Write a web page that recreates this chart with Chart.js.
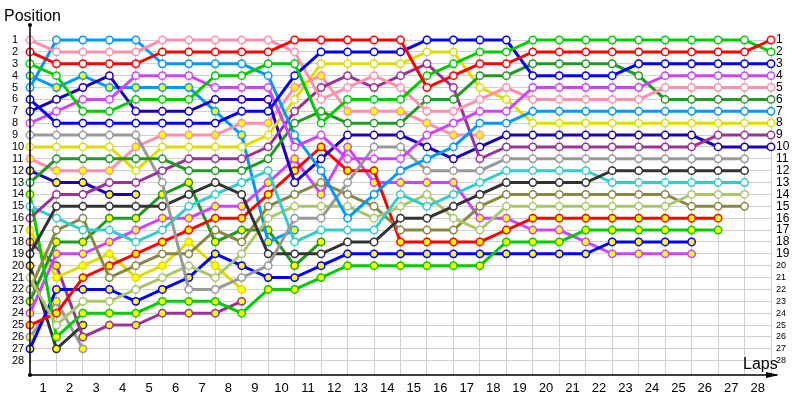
<!DOCTYPE html>
<html>
<head>
<meta charset="utf-8">
<script src="https://cdn.jsdelivr.net/npm/chart.js@4.4.1/dist/chart.umd.min.js"></script>
<style>
  html, body { margin: 0; padding: 0; background: #fff; }
  canvas { display: block; }
</style>
</head>
<body>
<canvas id="lapChart" width="800" height="400"></canvas>
<script>
// lap 0 = starting grid
const laps = [0,1,2,3,4,5,6,7,8,9,10,11,12,13,14,15,16,17,18,19,20,21,22,23,24,25,26,27,28];
const lapLabels = ['1','2','3','4','5','6','7','8','9','10','11','12','13','14','15','16','17','18','19','20','21','22','23','24','25','26','27','28'];
const positions = [1,2,3,4,5,6,7,8,9,10,11,12,13,14,15,16,17,18,19,20,21,22,23,24,25,26,27,28];

// position after each lap, one array per car
const redW    = [2,3,3,3,3,2,2,2,2,2,1,1,1,1,1,5,4,3,3,2,2,2,2,2,2,2,2,2,1];
const greenW  = [3,4,7,7,6,6,6,4,4,3,3,8,6,6,6,4,3,2,2,1,1,1,1,1,1,1,1,1,2];
const blueW   = [6,8,8,8,8,8,8,8,7,7,4,2,2,2,2,1,1,1,1,4,4,4,4,3,3,3,3,3,3];
const yellowW = [10,10,10,10,12,10,10,10,10,9,6,3,3,3,3,2,2,5,6,8,8,8,8,8,8,8,8,8,8];
const purpleW = [16,14,14,13,13,12,11,11,11,10,7,5,4,5,4,3,5,11,10,10,10,10,10,10,10,10,9,9,9];
const pinkW   = [1,2,2,2,2,1,1,1,1,1,2,6,5,4,5,7,7,6,5,6,6,6,6,6,5,5,5,5,5];
const dkgreenW= [13,11,11,11,11,11,12,12,12,11,8,7,8,8,8,6,6,4,4,3,3,3,3,4,6,6,6,6,6];
const navyW   = [7,6,5,4,7,7,7,6,6,6,13,11,9,9,9,10,11,10,9,9,9,9,9,9,9,9,10,10,10];
const violetW = [8,7,6,6,4,4,4,5,5,5,10,9,11,11,11,9,8,7,7,5,5,5,5,5,4,4,4,4,4];
const skyW    = [5,1,1,1,1,3,3,3,3,4,9,12,16,14,12,11,10,8,8,7,7,7,7,7,7,7,7,7,7];
const grayW   = [9,9,9,9,9,13,22,22,21,20,16,16,13,10,10,12,12,12,11,11,11,11,11,11,11,11,11,11];
const darkW   = [19,15,15,15,15,15,14,13,14,19,19,19,18,18,16,16,15,14,13,13,13,13,12,12,12,12,12,12];
const cyanW   = [15,16,17,17,18,17,15,14,13,12,18,17,17,17,14,15,14,13,12,12,12,12,13,13,13,13,13,13];
const limeW   = [21,25,23,23,22,21,20,21,19,16,15,15,15,16,15,14,16,17,15,15,15,15,15,15,15,14,14,14];
const oliveW  = [22,17,16,21,20,19,19,17,18,15,14,13,14,15,17,17,17,15,14,14,14,14,14,14,14,15,15,15];
const redY    = [25,24,21,20,19,18,17,16,16,14,12,10,12,12,18,18,18,18,17,16,16,16,16,16,16,16,16];
const greenY  = [14,26,24,24,24,23,23,23,24,22,22,21,20,20,20,20,20,20,18,18,18,17,17,17,17,17,17];
const blueY   = [27,22,22,22,23,22,21,19,20,21,21,20,19,19,19,19,19,19,19,19,19,19,18,18,18,18];
const violetY = [24,19,19,18,17,16,16,15,15,13,11,14,10,13,13,13,13,16,16,17,17,18,19,19,19,19];
const pinkY   = [11,12,12,12,10,9,9,9,8,8,5,4,7,7,7,8,9,9];
const skyY    = [4,5,4,5,5,5,5,7,9,18,17];
const dkgreenY= [23,18,18,16,16,14,13,18,17,17,20,18];
const yellowY = [17,21,20,19,21,20,18,20,22];
const purpleY = [18,20,26,25,25,24,24,24,23];
const navyY   = [12,13,13,14,14];
const darkY   = [20,27,25];
const grayY   = [26,23,27];

const WHITE = '#ffffff';
const YELLOW = '#ffff00';

const cars = [
  { pos: redW,     color: '#ff0000', fill: WHITE },
  { pos: greenW,   color: '#00cc00', fill: WHITE },
  { pos: blueW,    color: '#0000ff', fill: WHITE },
  { pos: violetW,  color: '#cc44ff', fill: WHITE },
  { pos: pinkW,    color: '#ff8fab', fill: WHITE },
  { pos: dkgreenW, color: '#229922', fill: WHITE },
  { pos: skyW,     color: '#0099ff', fill: WHITE },
  { pos: yellowW,  color: '#dddd00', fill: WHITE },
  { pos: purpleW,  color: '#993399', fill: WHITE },
  { pos: navyW,    color: '#1a00b8', fill: WHITE },
  { pos: grayW,    color: '#999999', fill: WHITE },
  { pos: darkW,    color: '#333333', fill: WHITE },
  { pos: cyanW,    color: '#33cccc', fill: WHITE },
  { pos: limeW,    color: '#a8c868', fill: WHITE },
  { pos: oliveW,   color: '#888844', fill: WHITE },
  { pos: redY,     color: '#ff0000', fill: YELLOW },
  { pos: greenY,   color: '#00cc00', fill: YELLOW },
  { pos: blueY,    color: '#0000ff', fill: YELLOW },
  { pos: violetY,  color: '#cc44ff', fill: YELLOW },
  { pos: pinkY,    color: '#ff8fab', fill: YELLOW },
  { pos: skyY,     color: '#0099ff', fill: YELLOW },
  { pos: dkgreenY, color: '#229922', fill: YELLOW },
  { pos: yellowY,  color: '#dddd00', fill: YELLOW },
  { pos: purpleY,  color: '#993399', fill: YELLOW },
  { pos: navyY,    color: '#1a00b8', fill: YELLOW },
  { pos: darkY,    color: '#333333', fill: YELLOW },
  { pos: grayY,    color: '#999999', fill: YELLOW }
];

const FONT = "'Liberation Sans', Arial, sans-serif";

// axis arrows + titles
const axisDecor = {
  id: 'axisDecor',
  afterDraw(chart) {
    const c = chart.ctx;
    const a = chart.chartArea;
    c.save();
    c.strokeStyle = '#000';
    c.fillStyle = '#000';
    c.lineWidth = 1.5;
    c.beginPath();
    c.moveTo(a.left, a.top - 15);
    c.lineTo(a.left, a.bottom);
    c.lineTo(a.right + 6, a.bottom);
    c.stroke();
    c.beginPath(); c.arc(a.left, a.top - 15, 2, 0, Math.PI * 2); c.fill();
    c.beginPath(); c.arc(a.left, a.bottom, 2, 0, Math.PI * 2); c.fill();
    c.beginPath();
    c.moveTo(a.right + 8, a.bottom);
    c.lineTo(a.right - 5, a.bottom - 3);
    c.lineTo(a.right - 5, a.bottom + 3);
    c.closePath(); c.fill();
    c.font = '16px ' + FONT;
    c.textAlign = 'left';
    c.textBaseline = 'alphabetic';
    c.fillText('Position', 4, 21);
    c.fillText('Laps', 743, 369);
    c.restore();
  }
};

const gridCol = '#cfcfcf';

new Chart(document.getElementById('lapChart'), {
  type: 'line',
  data: {
    datasets: cars.map(car => ({
      data: car.pos.map((p, i) => ({ x: laps[i], y: p })),
      borderColor: car.color,
      backgroundColor: car.color,
      pointBackgroundColor: car.fill,
      pointBorderColor: car.color,
      pointRadius: 3.7,
      pointBorderWidth: 1.5,
      borderWidth: 3,
      tension: 0,
      clip: false
    }))
  },
  options: {
    responsive: false,
    animation: false,
    events: [],
    layout: { padding: { top: 40, left: 12, right: 0, bottom: 0 } },
    plugins: { legend: { display: false }, tooltip: { enabled: false } },
    scales: {
      x: {
        type: 'linear',
        min: 0,
        max: 28,
        afterBuildTicks: s => {
          s.ticks = laps.flatMap(l => l < 28 ? [{ value: l }, { value: l + 0.5 }] : [{ value: l }]);
        },
        afterFit: s => { s.height = 25; },
        grid: {
          color: ctx => (ctx.tick && Number.isInteger(ctx.tick.value)) ? gridCol : 'rgba(0,0,0,0)',
          drawTicks: false
        },
        border: { display: false },
        ticks: {
          autoSkip: false,
          maxRotation: 0,
          padding: 6,
          color: '#000',
          font: { family: FONT, size: 13 },
          callback: v => Number.isInteger(v) ? '' : lapLabels[Math.floor(v)]
        }
      },
      y: {
        type: 'linear',
        position: 'left',
        reverse: true,
        min: 1,
        max: 29.2,
        afterBuildTicks: s => { s.ticks = positions.map(v => ({ value: v })); },
        afterFit: s => { s.width = 18; },
        grid: { color: gridCol, drawTicks: false },
        border: { display: false },
        ticks: {
          autoSkip: false,
          crossAlign: 'far',
          padding: 0,
          color: '#000',
          font: { family: FONT, size: 11 }
        }
      },
      y2: {
        type: 'linear',
        position: 'right',
        reverse: true,
        min: 1,
        max: 29.2,
        afterBuildTicks: s => { s.ticks = positions.map(v => ({ value: v })); },
        afterFit: s => { s.width = 29; },
        grid: { display: false, drawTicks: false },
        border: { display: false },
        ticks: {
          autoSkip: false,
          crossAlign: 'near',
          padding: 5,
          color: '#000',
          font: ctx => ({ family: FONT, size: (ctx.tick && ctx.tick.value <= 19) ? 12 : 9 })
        }
      }
    }
  },
  plugins: [axisDecor]
});
</script>
</body>
</html>
